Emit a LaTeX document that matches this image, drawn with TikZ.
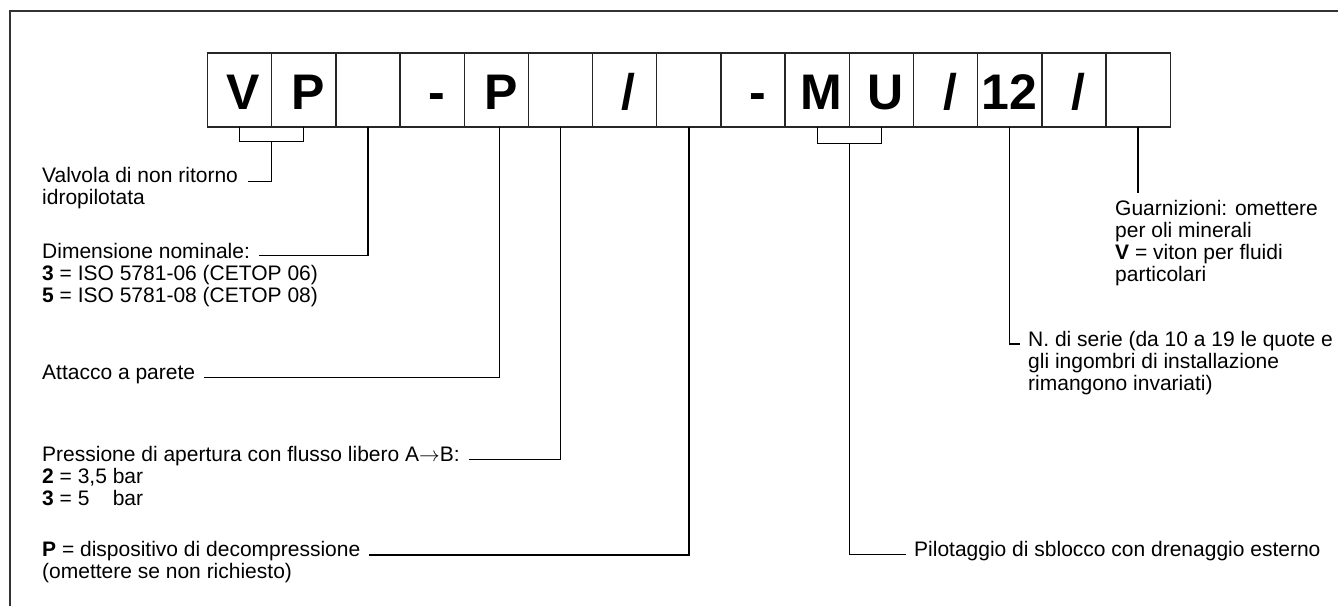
\documentclass[tikz,border=0pt]{standalone}
\usepackage{fontspec}
\setmainfont{Liberation Sans}
\usetikzlibrary{calc}
\begin{document}
\begin{tikzpicture}[x=1pt,y=-1pt,
  cell/.style={draw=black!85, line width=1.4pt, minimum width=64.18pt, minimum height=74pt, inner sep=0pt, outer sep=0pt},
  big/.style={font=\fontsize{50}{50}\selectfont\bfseries, inner sep=0pt, anchor=base},
  lbl/.style={font=\fontsize{21}{22}\selectfont, inner sep=0pt, anchor=base west},
  lead/.style={line width=1.3pt, draw=black},
  frame/.style={line width=2pt, draw=black!80}]
\useasboundingbox (0,0) rectangle (1338,606);
% frame (top and left edges)
\draw[frame] (1338,10.5) -- (9.8,10.5) -- (9.8,606);
% cells
\foreach \i in {1,...,15} {
  \node[cell] (c\i) at ({207.5+64.18*(\i-0.5)},90) {};
}
% big letters
\node[big] (tV)  at ($(c1.center)+(4,19)$) {V};
\node[big] (tP1) at ($(c2.center)+(4.5,19)$) {P};
\node[big] (tD1) at ($(c4.center)+(5,19)$) {-};
\node[big] (tP2) at ($(c5.center)+(4.5,19)$) {P};
\node[big] (tS1) at ($(c7.center)+(4,19)$) {/};
\node[big] (tD2) at ($(c9.center)+(4.5,19)$) {-};
\node[big] (tM)  at ($(c10.center)+(4,19)$) {M};
\node[big] (tU)  at ($(c11.center)+(4,19)$) {U};
\node[big] (tS2) at ($(c12.center)+(5,19)$) {/};
\node[big] (t12) at ($(c13.center)+(0,19)$) {12};
\node[big] (tS3) at ($(c14.center)+(5,19)$) {/};
% labels
\node[lbl] (valv)  at (42,182.3) {Valvola di non ritorno};
\node[lbl] (valvb) at (42,204.3) {idropilotata};
\node[lbl] (dim)   at (42,258.3) {Dimensione nominale:};
\node[lbl] (dimb)  at (42,280.3) {\textbf{3} = ISO 5781-06 (CETOP 06)};
\node[lbl] (dimc)  at (42,302.3) {\textbf{5} = ISO 5781-08 (CETOP 08)};
\node[lbl] (att)   at (42,379) {Attacco a parete};
\node[lbl] (pres)  at (42,461.5) {Pressione di apertura con flusso libero A$\rightarrow$B:};
\node[lbl] (presb) at (42,483.5) {\textbf{2} = 3,5 bar};
\node[lbl] (presc) at (42,505.5) {\textbf{3} = 5\phantom{,5} bar};
\node[lbl] (pdisp) at (42,556.5) {\textbf{P} = dispositivo di decompressione};
\node[lbl] (pdispb) at (42,578.5) {(omettere se non richiesto)};
\node[lbl] (pilot) at (914,556.5) {Pilotaggio di sblocco con drenaggio esterno};
\node[lbl] (nser)  at (1028,346.5) {N. di serie (da 10 a 19 le quote e};
\node[lbl] (nserb) at (1028,368.5) {gli ingombri di installazione};
\node[lbl] (nserc) at (1028,390.5) {rimangono invariati)};
\node[lbl] (guar)  at (1115,215.3) {Guarnizioni: omettere};
\node[lbl] (guarb) at (1115,237.3) {per oli minerali};
\node[lbl] (guarc) at (1115,259.3) {\textbf{V} = viton per fluidi};
\node[lbl] (guard) at (1115,281.3) {particolari};
% connectors
\coordinate (vpm) at ($(c1.south)!0.5!(c2.south)+(0,14.7)$);
\draw[lead] (c1.south) |- (vpm) -| (c2.south);
\draw[lead] (vpm) |- ([xshift=10pt,yshift=1pt]valv.base east);
\draw[lead] (c3.south) |- ([xshift=9pt,yshift=2.5pt]dim.base east);
\draw[lead] ($(c5.south)+(3,0)$) |- ([xshift=9pt,yshift=1.5pt]att.base east);
\draw[lead] (c6.south) |- ([xshift=9pt,yshift=2pt]pres.base east);
\draw[lead] (c8.south) |- ([xshift=9pt,yshift=1.5pt]pdisp.base east);
\coordinate (mum) at ($(c10.south)!0.5!(c11.south)+(0,16.3)$);
\draw[lead] (c10.south) |- (mum) -| (c11.south);
\draw[lead] (mum) |- ([xshift=-8pt,yshift=2pt]pilot.base west);
\draw[lead] (c13.south) |- ([xshift=-8pt,yshift=2.5pt]nser.base west);
\coordinate (gtop) at ($(c15.south |- guar.north)+(0,-7)$);
\draw[lead] (c15.south) -- (gtop);
\end{tikzpicture}
\end{document}
